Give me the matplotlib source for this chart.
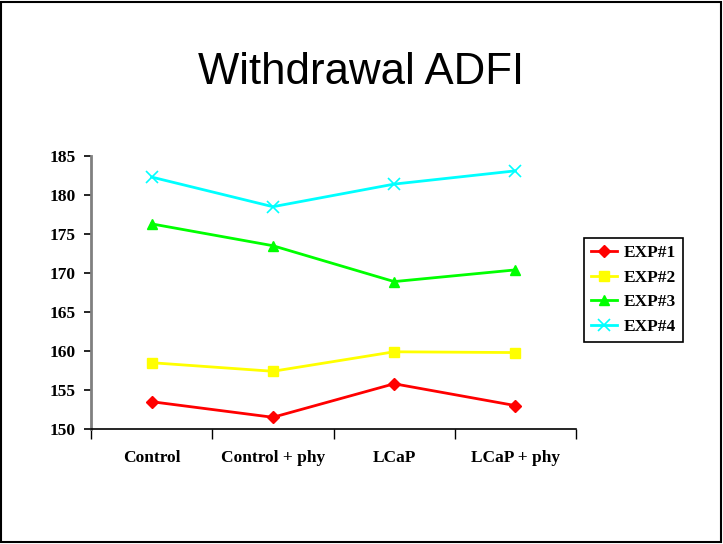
import matplotlib.pyplot as plt
from matplotlib.patches import Rectangle

# datos
categorias = ['Control', 'Control + phy', 'LCaP', 'LCaP + phy']
exp1 = [153.5, 151.5, 155.8, 153.0]
exp2 = [158.5, 157.4, 159.9, 159.8]
exp3 = [176.3, 173.5, 168.9, 170.4]
exp4 = [182.3, 178.5, 181.4, 183.1]

fig = plt.figure(figsize=(7.23, 5.44), dpi=100)
ax = fig.add_axes([0.1259, 0.2114, 0.6708, 0.5018])

x = [0.5, 1.5, 2.5, 3.5]
ax.plot(x, exp1, color='#ff0000', marker='D', markersize=6, lw=2, label='EXP#1')
ax.plot(x, exp2, color='#ffff00', marker='s', markersize=7, lw=2, label='EXP#2')
ax.plot(x, exp3, color='#00ff00', marker='^', markersize=7, lw=2, label='EXP#3')
ax.plot(x, exp4, color='#00ffff', marker='x', markersize=8, mew=1.2, lw=2, label='EXP#4')

ax.set_xlim(0, 4)
ax.set_ylim(150, 185)
ax.set_yticks(range(150, 186, 5))
ax.set_xticks([0, 1, 2, 3, 4])
ax.set_xticklabels([])
ax.set_xticks(x, minor=True)
ax.set_xticklabels(categorias, minor=True)
ax.tick_params(axis='x', which='major', direction='out', length=7, width=1, color='black')
ax.tick_params(axis='x', which='minor', length=0, pad=15)
ax.tick_params(axis='y', direction='out', length=5, width=1.2, pad=6)

fuente = {'family': 'Liberation Serif', 'weight': 'bold', 'size': 12.5}
for lab in ax.get_xticklabels(minor=True) + ax.get_yticklabels():
    lab.set_fontfamily('Liberation Serif')
    lab.set_fontweight('bold')
    lab.set_fontsize(12.5)

ax.spines['top'].set_visible(False)
ax.spines['right'].set_visible(False)
ax.spines['left'].set_color('#808080')
ax.spines['left'].set_linewidth(2)
ax.spines['bottom'].set_color('black')
ax.spines['bottom'].set_linewidth(1.2)

fig.text(0.5, 0.866, 'Withdrawal ADFI', ha='center', va='center',
         fontfamily='Liberation Sans', fontsize=31.5)

leg = fig.legend(loc='upper left', bbox_to_anchor=(0.808, 0.563), prop=fuente,
                 fancybox=False, edgecolor='black', framealpha=1,
                 handlelength=1.5, borderpad=0.4, labelspacing=0.5, handletextpad=0.4,
                 borderaxespad=0)
leg.get_frame().set_linewidth(1.2)

fig.patches.append(Rectangle((0.002, 0.004), 0.995, 0.993, transform=fig.transFigure,
                             fill=False, edgecolor='black', linewidth=1.5))

fig.savefig('out.png', dpi=100)
